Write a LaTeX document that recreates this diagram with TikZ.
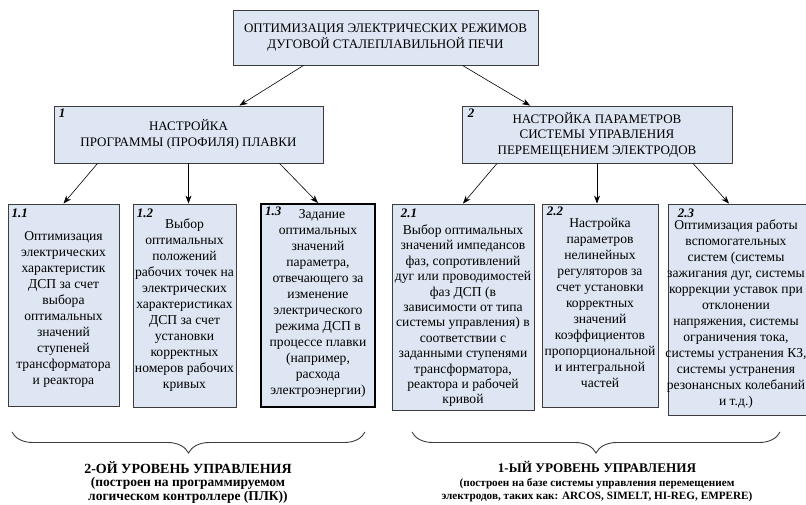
\documentclass[tikz,border=0pt]{standalone}
\usepackage{fontspec}
\setmainfont{Liberation Serif}
\usetikzlibrary{arrows.meta,decorations.pathreplacing}

\definecolor{boxfill}{RGB}{221,230,242}
\definecolor{boxline}{RGB}{60,60,60}

\begin{document}
\begin{tikzpicture}[x=1pt, y=-1pt,
    box/.style={draw=boxline, fill=boxfill, line width=0.9pt, inner sep=0pt},
    head/.style={font=\fontsize{13}{15.5}\selectfont, align=center},
    num/.style={font=\fontsize{13}{15}\selectfont\bfseries\itshape, anchor=base west, inner sep=0pt},
    txt/.style={font=\fontsize{13.6}{16}\selectfont, align=center, anchor=north, inner sep=0pt},
    link/.style={-{Stealth[length=8pt, width=6pt]}, line width=0.6pt},
    brace/.style={decorate, decoration={brace, mirror, amplitude=21pt}, line width=0.9pt, draw=boxline},
    lvl/.style={align=center, anchor=north, inner sep=0pt}]
    \useasboundingbox (0,0) rectangle (806,504);

    % Главный блок
    \node[box, head, minimum width=305pt, minimum height=55pt] (top) at (385.5,37.5)
        {ОПТИМИЗАЦИЯ ЭЛЕКТРИЧЕСКИХ РЕЖИМОВ\\ДУГОВОЙ СТАЛЕПЛАВИЛЬНОЙ ПЕЧИ};

    % Блоки второго уровня
    \node[box, head, minimum width=269pt, minimum height=57pt] (box1) at (188.5,134.5)
        {НАСТРОЙКА\\ПРОГРАММЫ (ПРОФИЛЯ) ПЛАВКИ};
    \node[num] (n1) at ([xshift=5pt, yshift=-12pt]box1.north west) {1};
    \node[box, head, minimum width=270pt, minimum height=57pt] (box2) at (597,134.5)
        {НАСТРОЙКА ПАРАМЕТРОВ\\СИСТЕМЫ УПРАВЛЕНИЯ\\ПЕРЕМЕЩЕНИЕМ ЭЛЕКТРОДОВ};
    \node[num] (n2) at ([xshift=6pt, yshift=-12pt]box2.north west) {2};

    \draw[link] ([xshift=-82pt]top.south) -- ([xshift=51pt]box1.north);
    \draw[link] ([xshift=77pt]top.south) -- ([xshift=-67pt]box2.north);

    % Блоки ветви 1
    \node[box, minimum width=111pt, minimum height=202pt] (b11) at (63.5,305) {};
    \node[num] (n11) at ([xshift=4pt, yshift=-14pt]b11.north west) {1.1};
    \node[txt] (t11) at ([yshift=-28pt]b11.north)
        {Оптимизация\\электрических\\характеристик\\ДСП за счет\\выбора\\оптимальных\\значений\\ступеней\\трансформатора\\и реактора};

    \node[box, minimum width=103pt, minimum height=203pt] (b12) at (184.5,305.5) {};
    \node[num] (n12) at ([xshift=4pt, yshift=-14pt]b12.north west) {1.2};
    \node[txt] (t12) at ([yshift=-15pt]b12.north)
        {Выбор\\оптимальных\\положений\\рабочих точек на\\электрических\\характеристиках\\ДСП за счет\\установки\\корректных\\номеров рабочих\\кривых};

    \node[box, draw=black, line width=2pt, minimum width=114pt, minimum height=203pt] (b13) at (318,305.5) {};
    \node[num] (n13) at ([xshift=5pt, yshift=-12pt]b13.north west) {1.3};
    \node[txt] (t13) at ([yshift=-6pt]b13.north)
        {\hspace*{8pt}Задание\\оптимальных\\значений\\параметра,\\отвечающего за\\изменение\\электрического\\режима ДСП в\\процессе плавки\\(например,\\расхода\\электроэнергии)};

    \draw[link] ([xshift=-91pt]box1.south) -- (b11.north);
    \draw[link] (box1.south) -- (box1.south |- b12.north);
    \draw[link] ([xshift=91pt]box1.south) -- (b13.north);

    % Блоки ветви 2
    \node[box, minimum width=142pt, minimum height=206pt] (b21) at (463,307) {};
    \node[num] (n21) at ([xshift=9pt, yshift=-14pt]b21.north west) {2.1};
    \node[txt, font=\fontsize{13.6}{15.4}\selectfont] (t21) at ([yshift=-21pt]b21.north)
        {Выбор оптимальных\\значений импедансов\\фаз, сопротивлений\\дуг или проводимостей\\фаз ДСП (в\\зависимости от типа\\системы управления) в\\соответствии с\\заданными ступенями\\трансформатора,\\реактора и рабочей\\кривой};

    \node[box, minimum width=116pt, minimum height=203pt] (b22) at (600,305.5) {};
    \node[num] (n22) at ([xshift=5pt, yshift=-12pt]b22.north west) {2.2};
    \node[txt] (t22) at ([yshift=-14pt]b22.north)
        {Настройка\\параметров\\нелинейных\\регуляторов за\\счет установки\\корректных\\значений\\коэффициентов\\пропорциональной\\и интегральной\\частей};

    \node[box, minimum width=138pt, minimum height=211pt] (b23) at (737,309.5) {};
    \node[num] (n23) at ([xshift=10pt, yshift=-14pt]b23.north west) {2.3};
    \node[txt] (t23) at ([xshift=-1pt, yshift=-16pt]b23.north)
        {Оптимизация работы\\вспомогательных\\систем (системы\\зажигания дуг, системы\\коррекции уставок при\\отклонении\\напряжения, системы\\ограничения тока,\\системы устранения КЗ,\\системы устранения\\резонансных колебаний\\и т.д.)};

    \draw[link] ([xshift=-100pt]box2.south) -- (b21.north);
    \draw[link] (box2.south) -- (box2.south |- b22.north);
    \draw[link] ([xshift=96pt]box2.south) -- ([xshift=-8pt]b23.north);

    % Уровни управления
    \draw[brace] (12,432) -- (365,432);
    \draw[brace] (412,432) -- (780,432);
    \node[lvl, font=\fontsize{13.5}{13.6}\selectfont\bfseries] (lvl2) at (188,461)
        {{\fontsize{14}{13.6}\selectfont 2-ОЙ УРОВЕНЬ УПРАВЛЕНИЯ}\\(построен на программируемом\\логическом контроллере (ПЛК))};
    \node[lvl, font=\fontsize{11.2}{13.6}\selectfont\bfseries] (lvl1) at (597,461)
        {{\fontsize{13.2}{13.6}\selectfont 1-ЫЙ УРОВЕНЬ УПРАВЛЕНИЯ}\\(построен на базе системы управления перемещением\\электродов, таких как: ARCOS, SIMELT, HI-REG, EMPERE)};
\end{tikzpicture}
\end{document}
